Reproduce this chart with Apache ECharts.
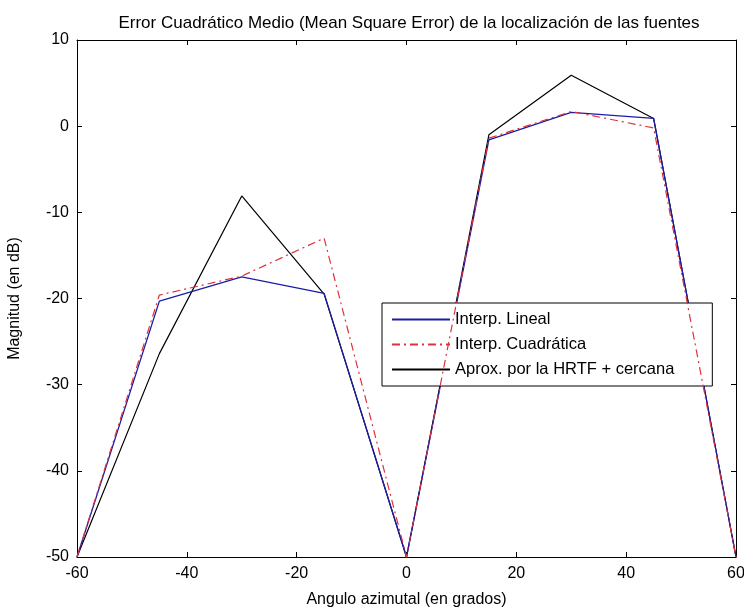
<!DOCTYPE html>
<html>
<head>
<meta charset="utf-8">
<script src="https://cdn.jsdelivr.net/npm/echarts@6/dist/echarts.min.js"></script>
<style>
html,body{margin:0;padding:0;background:#fff;}
#chart{width:744px;height:612px;}
</style>
</head>
<body>
<div id="chart"></div>
<script>
// angulos azimutales
var angles = [-60, -45, -30, -15, 0, 15, 30, 45, 60];
// error cuadratico medio (dB)
var lineal = [-50, -20.3, -17.5, -19.4, -50, -1.6, 1.6, 0.9, -50];
var cuadratica = [-50, -19.6, -17.4, -13.0, -50, -1.4, 1.7, -0.2, -50];
var cercana = [-50, -26.4, -8.1, -19.5, -50, -1.0, 5.9, 0.9, -50];
var xTicks = [-60, -40, -20, 0, 20, 40, 60];
var yTicks = [-50, -40, -30, -20, -10, 0, 10];

var font = 'Liberation Sans, Arial, sans-serif';
var fs = 16;

function pairs(ys) {
	return angles.map(function (a, i) { return [a, ys[i]]; });
}

var chart = echarts.init(document.getElementById('chart'), null, {renderer: 'canvas'});

//ejes tipo matlab (caja con ticks hacia dentro)
function axisBase(extra) {
	var ax = {
		type: 'value',
		axisLine: {show: true, onZero: false, lineStyle: {color: '#000', width: 1}},
		axisTick: {show: true, inside: true, length: 5, lineStyle: {color: '#000'}},
		splitLine: {show: false},
		axisLabel: {show: false}
	};
	for (var k in extra) ax[k] = extra[k];
	return ax;
}

var option = {
	backgroundColor: '#fff',
	animation: false,
	title: {
		text: 'Error Cuadrático Medio (Mean Square Error) de la localización de las fuentes',
		left: 404, top: 10, textAlign: 'center',
		textStyle: {fontFamily: font, fontSize: 17, fontWeight: 'normal', color: '#000'}
	},
	grid: {left: 77, right: 8, top: 40, bottom: 55, containLabel: false, outerBoundsMode: 'none'},
	xAxis: [
		axisBase({
			min: -60, max: 60, interval: 20, position: 'bottom',
			axisLabel: {show: true, color: '#000', fontFamily: font, fontSize: fs, margin: 9,
				formatter: function (v) { return xTicks.indexOf(v) >= 0 ? String(v) : ''; }},
			name: 'Angulo azimutal (en grados)', nameLocation: 'middle', nameGap: 35,
			nameTextStyle: {color: '#000', fontFamily: font, fontSize: fs}
		}),
		axisBase({min: -60, max: 60, interval: 20, position: 'top'})
	],
	yAxis: [
		axisBase({
			min: -50, max: 10, interval: 10, position: 'left',
			axisLabel: {show: true, color: '#000', fontFamily: font, fontSize: fs, margin: 8,
				formatter: function (v) { return yTicks.indexOf(v) >= 0 ? String(v) : ''; }},
			name: 'Magnitud (en dB)', nameLocation: 'middle', nameGap: 54, nameRotate: 90,
			nameTextStyle: {color: '#000', fontFamily: font, fontSize: fs}
		}),
		axisBase({min: -50, max: 10, interval: 10, position: 'right'})
	],
	legend: {
		orient: 'vertical',
		left: 382, top: 303,
		backgroundColor: '#fff',
		borderColor: '#000', borderWidth: 1,
		padding: [8, 38, 8, 9],
		itemGap: 8,
		itemWidth: 58, itemHeight: 1,
		itemStyle: {color: 'transparent', borderWidth: 0},
		textStyle: {fontFamily: font, fontSize: 16.5, color: '#000'},
		data: ['Interp. Lineal', 'Interp. Cuadrática', 'Aprox. por la HRTF + cercana']
	},
	series: [
		{
			name: 'Interp. Lineal', type: 'line', data: pairs(lineal),
			symbol: 'none', color: '#1c1ca8',
			lineStyle: {color: '#1c1ca8', width: 1.3}, z: 3
		},
		{
			name: 'Interp. Cuadrática', type: 'line', data: pairs(cuadratica),
			symbol: 'none', color: '#e0303a',
			lineStyle: {color: '#e0303a', width: 1.2, type: [8, 4, 2, 4]}, z: 4
		},
		{
			name: 'Aprox. por la HRTF + cercana', type: 'line', data: pairs(cercana),
			symbol: 'none', color: '#000',
			lineStyle: {color: '#000', width: 1.2}, z: 2
		}
	]
};

chart.setOption(option);
</script>
</body>
</html>
